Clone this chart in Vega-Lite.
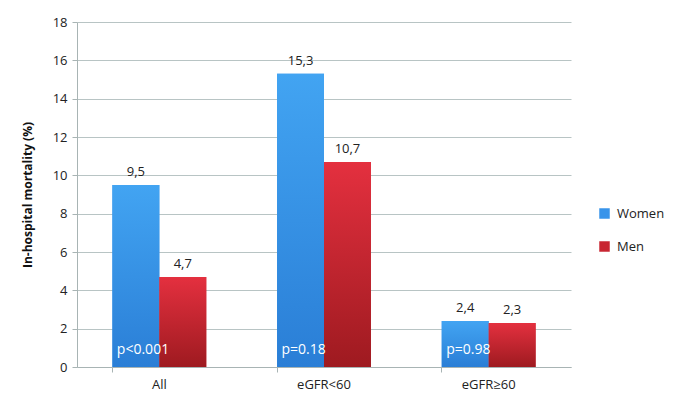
{
  "$schema": "https://vega.github.io/schema/vega-lite/v6.json",
  "width": 494,
  "height": 345,
  "autosize": "none",
  "padding": {"left": 77, "top": 22, "right": 114, "bottom": 39},
  "background": "white",
  "config": {
    "font": "Open Sans",
    "view": {"stroke": null},
    "axis": {"labelFont": "Open Sans", "titleFont": "Open Sans", "labelColor": "#222", "domainColor": "#a8b4b4", "tickColor": "#a8b4b4", "gridColor": "#b8c4c4"}
  },
  "data": {
    "values": [
      {"group": "All", "sex": "Women", "value": 9.5, "label": "9,5", "p": "p<0.001"},
      {"group": "All", "sex": "Men", "value": 4.7, "label": "4,7", "p": ""},
      {"group": "eGFR<60", "sex": "Women", "value": 15.3, "label": "15,3", "p": "p=0.18"},
      {"group": "eGFR<60", "sex": "Men", "value": 10.7, "label": "10,7", "p": ""},
      {"group": "eGFR≥60", "sex": "Women", "value": 2.4, "label": "2,4", "p": "p=0.98"},
      {"group": "eGFR≥60", "sex": "Men", "value": 2.3, "label": "2,3", "p": ""}
    ]
  },
  "encoding": {
    "x": {
      "field": "group", "type": "nominal", "sort": null,
      "scale": {"paddingInner": 0.43, "paddingOuter": 0.215},
      "axis": {"title": null, "labelAngle": 0, "labelFontSize": 13, "labelPadding": 6, "bandPosition": 0, "tickSize": 5, "grid": false}
    },
    "xOffset": {"field": "sex", "type": "nominal", "sort": ["Women", "Men"], "scale": {"domain": ["Women", "Men"], "paddingInner": 0, "paddingOuter": 0}},
    "y": {
      "field": "value", "type": "quantitative",
      "scale": {"domain": [0, 18], "nice": false},
      "axis": {"title": "In-hospital mortality (%)", "titleFontSize": 12, "titleFontWeight": "bold", "titleColor": "#111", "titlePadding": 18, "values": [0, 2, 4, 6, 8, 10, 12, 14, 16, 18], "labelFontSize": 13, "tickSize": 5, "labelPadding": 5, "gridWidth": 1}
    }
  },
  "layer": [
    {
      "mark": {"type": "bar"},
      "encoding": {
        "color": {
          "field": "sex", "type": "nominal", "sort": ["Women", "Men"],
          "scale": {"domain": ["Women", "Men"], "range": ["#3894ea", "#c82632"]},
          "legend": {"title": null, "orient": "none", "legendX": 521, "legendY": 185, "symbolType": "square", "symbolSize": 110, "labelFontSize": 13, "labelColor": "#222", "rowPadding": 19, "symbolStrokeWidth": 0, "labelOffset": 6}
        }
      }
    },
    {
      "transform": [{"filter": "datum.sex == 'Women'"}],
      "mark": {"type": "bar", "fill": {"gradient": "linear", "x1": 0, "y1": 0, "x2": 0, "y2": 1, "stops": [{"offset": 0, "color": "#42a4f2"}, {"offset": 1, "color": "#2a7ed6"}]}},
      "encoding": {}
    },
    {
      "transform": [{"filter": "datum.sex == 'Men'"}],
      "mark": {"type": "bar", "fill": {"gradient": "linear", "x1": 0, "y1": 0, "x2": 0, "y2": 1, "stops": [{"offset": 0, "color": "#e4303f"}, {"offset": 1, "color": "#9e1a20"}]}},
      "encoding": {}
    },
    {
      "mark": {"type": "text", "baseline": "bottom", "dy": -6, "fontSize": 13, "color": "#222"},
      "encoding": {
        "text": {"field": "label"}
      }
    },
    {
      "transform": [{"filter": "datum.p != ''"}],
      "mark": {"type": "text", "align": "left", "baseline": "middle", "dx": -19, "fontSize": 14, "color": "white"},
      "encoding": {
        "y": {"datum": 0.9, "type": "quantitative"},
        "text": {"field": "p"}
      }
    }
  ]
}
